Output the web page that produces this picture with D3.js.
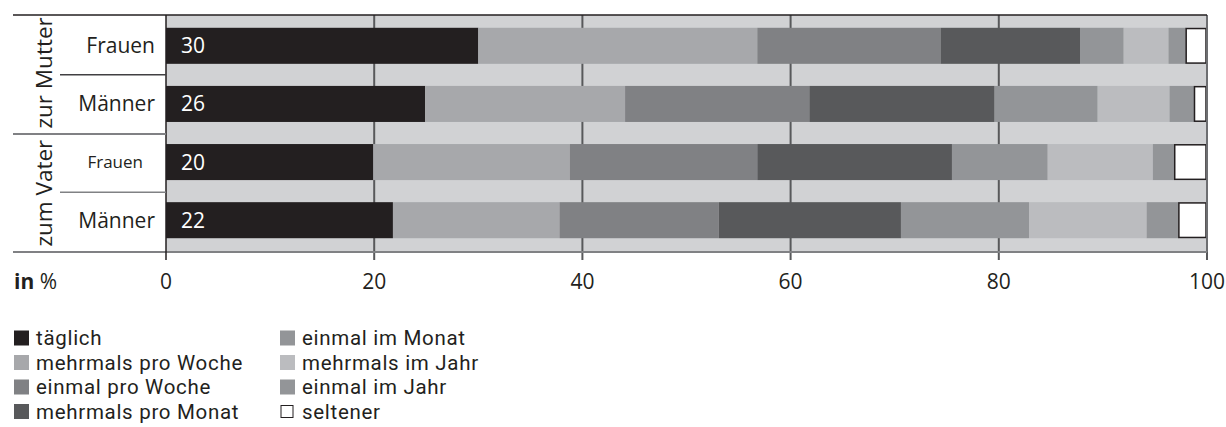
<!DOCTYPE html>
<html><head><meta charset="utf-8">
<script src="https://cdn.jsdelivr.net/npm/d3@7"></script>
<style>body{margin:0;background:#fff}svg{display:block}text{font-family:"Open Sans",sans-serif;fill:#231f20}.leg text{font-family:Roboto,sans-serif;letter-spacing:0.7px}</style>
</head><body>
<svg id="c" width="1226" height="427"></svg>
<script>
const groups = ["zur Mutter", "zum Vater"];
const rows = ["Mutter-Frauen", "Mutter-Männer", "Vater-Frauen", "Vater-Männer"];
const rowLabels = ["Frauen", "Männer", "Frauen", "Männer"];
const rowGroup = ["zur Mutter", "zur Mutter", "zum Vater", "zum Vater"];
const categories = ["täglich", "mehrmals pro Woche", "einmal pro Woche", "mehrmals pro Monat",
                    "einmal im Monat", "mehrmals im Jahr", "einmal im Jahr", "seltener"];
const taeglich          = [30.0, 24.9, 19.9, 21.8];
const mehrmalsProWoche  = [26.8, 19.2, 18.9, 16.0];
const einmalProWoche    = [17.6, 17.7, 18.0, 15.3];
const mehrmalsProMonat  = [13.4, 17.8, 18.7, 17.5];
const einmalImMonat     = [4.2, 9.9, 9.2, 12.3];
const mehrmalsImJahr    = [4.3, 6.9, 10.1, 11.3];
const einmalImJahr      = [1.7, 2.4, 2.1, 3.1];
const seltener          = [2.0, 1.2, 3.1, 2.7];
const valueLabels = ["30", "26", "20", "22"];
const ticks = [0, 20, 40, 60, 80, 100];
const colors = ["#231f20", "#a7a8ab", "#808184", "#58595b", "#939598", "#bbbcbf", "#939598", "#ffffff"];

const series = [taeglich, mehrmalsProWoche, einmalProWoche, mehrmalsProMonat,
                einmalImMonat, mehrmalsImJahr, einmalImJahr, seltener];
const table = rows.map((r, i) => {
  const o = {row: r};
  categories.forEach((c, j) => o[c] = series[j][i]);
  return o;
});
const stacked = d3.stack().keys(categories)(table);

const svg = d3.select("#c");
const x = d3.scaleLinear().domain([0, 100]).range([166, 1207]);
const y = d3.scaleBand().domain(rows).range([15, 251]).paddingInner(0.38).paddingOuter(0.22);
const color = d3.scaleOrdinal().domain(categories).range(colors);

// background
svg.append("rect").attr("x", x(0)).attr("y", 15).attr("width", x(100) - x(0)).attr("height", 237).attr("fill", "#d1d2d4");

// gridlines + ticks
svg.append("g").selectAll("line").data(ticks.slice(1)).join("line")
  .attr("x1", d => x(d)).attr("x2", d => x(d)).attr("y1", 15).attr("y2", 260)
  .attr("stroke", "#58595b").attr("stroke-width", 2);

// bars
const layer = svg.append("g").selectAll("g").data(stacked).join("g")
  .attr("fill", d => color(d.key));
layer.selectAll("rect").data(d => d.map((v, i) => ({v, i, key: d.key}))).join("rect")
  .attr("x", d => x(d.v[0]))
  .attr("width", d => d.key === "seltener" ? x(d.v[1]) - x(d.v[0]) - 1 : x(d.v[1]) - x(d.v[0]))
  .attr("y", d => y(rows[d.i]) + (d.key === "seltener" ? 0.75 : 0))
  .attr("height", d => y.bandwidth() - (d.key === "seltener" ? 1.5 : 0))
  .attr("stroke", d => d.key === "seltener" ? "#231f20" : "none")
  .attr("stroke-width", 1.5);

// right border line
svg.append("line").attr("x1", x(100)).attr("x2", x(100)).attr("y1", 15).attr("y2", 252)
  .attr("stroke", "#6d6e71").attr("stroke-width", 2);

// value labels
svg.append("g").selectAll("text").data(valueLabels).join("text")
  .attr("x", x(0) + 15).attr("y", (d, i) => y(rows[i]) + y.bandwidth() / 2)
  .attr("dy", "0.36em").attr("font-size", 21).style("fill", "#fff").text(d => d);

// frame lines
svg.append("line").attr("x1", 13).attr("x2", x(100)).attr("y1", 15).attr("y2", 15)
  .attr("stroke", "#231f20").attr("stroke-width", 1.5);
svg.append("line").attr("x1", 13).attr("x2", x(100)).attr("y1", 252).attr("y2", 252)
  .attr("stroke", "#808184").attr("stroke-width", 2);
svg.append("line").attr("x1", x(0)).attr("x2", x(0)).attr("y1", 15).attr("y2", 260)
  .attr("stroke", "#231f20").attr("stroke-width", 1.5);

// separators
const sepY = i => (y(rows[i]) + y.bandwidth() + y(rows[i + 1])) / 2;
svg.append("line").attr("x1", 60).attr("x2", x(0)).attr("y1", sepY(0)).attr("y2", sepY(0))
  .attr("stroke", "#414042").attr("stroke-width", 1.5);
svg.append("line").attr("x1", 13).attr("x2", x(0)).attr("y1", sepY(1) + 1).attr("y2", sepY(1) + 1)
  .attr("stroke", "#808184").attr("stroke-width", 2);
svg.append("line").attr("x1", 60).attr("x2", x(0)).attr("y1", sepY(2) + 1).attr("y2", sepY(2) + 1)
  .attr("stroke", "#808184").attr("stroke-width", 1.5);

// row labels
svg.append("g").selectAll("text").data(rowLabels).join("text")
  .attr("x", (d, i) => i === 2 ? 143 : 155)
  .attr("y", (d, i) => y(rows[i]) + y.bandwidth() / 2)
  .attr("dy", "0.36em").attr("text-anchor", "end")
  .attr("font-size", (d, i) => i === 2 ? 17 : 21).text(d => d);

// group labels
groups.forEach(g => {
  const idx = rows.filter((r, i) => rowGroup[i] === g).map(r => rows.indexOf(r));
  const cy = (y(rows[idx[0]]) + y(rows[idx[idx.length - 1]]) + y.bandwidth()) / 2 + (g === "zum Vater" ? 2 : -2);
  svg.append("text").attr("transform", `translate(44,${cy}) rotate(-90)`)
    .attr("text-anchor", "middle").attr("dy", "0.36em").attr("font-size", 22.5).text(g);
});

// x tick labels
svg.append("g").selectAll("text").data(ticks).join("text")
  .attr("x", d => x(d)).attr("y", 281).attr("dy", "0.36em").attr("text-anchor", "middle")
  .attr("font-size", 21).text(d => d);
const unit = svg.append("text").attr("x", 14).attr("y", 281).attr("dy", "0.36em").attr("font-size", 21);
unit.append("tspan").attr("font-weight", "bold").text("in");
unit.append("tspan").text(" %");

// legend
const legendCols = [14, 280];
const legendRows = [338, 362.5, 387, 411.5];
const leg = svg.append("g").attr("class", "leg").selectAll("g").data(categories).join("g")
  .attr("transform", (d, i) => `translate(${legendCols[Math.floor(i / 4)]},${legendRows[i % 4]})`);
leg.append("rect").attr("x", d => d === "seltener" ? 1 : 0).attr("y", d => d === "seltener" ? -6 : -7.5)
  .attr("width", d => d === "seltener" ? 12 : 15).attr("height", d => d === "seltener" ? 12 : 15)
  .attr("fill", d => color(d)).attr("stroke", d => d === "seltener" ? "#231f20" : "none").attr("stroke-width", 1);
leg.append("text").attr("x", 22).attr("dy", "0.36em").attr("font-size", 20.5).text(d => d);
</script>
</body></html>
